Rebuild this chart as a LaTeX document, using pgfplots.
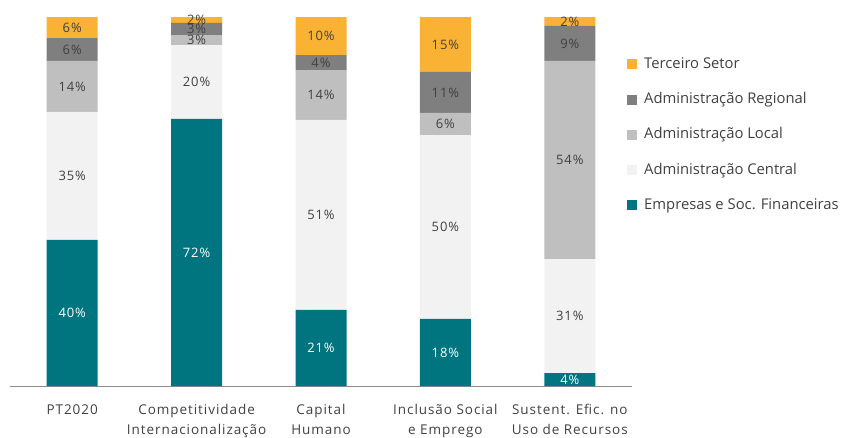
\documentclass[border=0pt]{standalone}
\usepackage{pgfplots}
\pgfplotsset{compat=1.18}
\usepackage{pgfplotstable}
\usepackage{fontspec}
\setmainfont{Open Sans}
\newfontfamily\tickfont[LetterSpace=7]{Open Sans}
\definecolor{cEmp}{HTML}{00747F}
\definecolor{cCen}{HTML}{F2F2F2}
\definecolor{cLoc}{HTML}{BFBFBF}
\definecolor{cReg}{HTML}{7F7F7F}
\definecolor{cTer}{HTML}{F9B233}
\definecolor{txt}{HTML}{404040}
\pgfplotstableread{
x y lab
0 39.6 40
1 72.4 72
2 20.6 21
3 18.2 18
4 3.5 4
}\tEmp
\pgfplotstableread{
x y lab
0 34.7 35
1 20.0 20
2 51.5 51
3 49.8 50
4 30.9 31
}\tCen
\pgfplotstableread{
x y lab
0 13.8 14
1 2.7 3
2 13.5 14
3 6.0 6
4 53.7 54
}\tLoc
\pgfplotstableread{
x y lab
0 6.2 6
1 3.3 3
2 4.1 4
3 11.1 11
4 9.5 9
}\tReg
\pgfplotstableread{
x y lab
0 5.7 6
1 1.6 2
2 10.3 10
3 14.9 15
4 2.4 2
}\tTer
\begin{document}
\begin{tikzpicture}
\useasboundingbox (-10pt,-51pt) rectangle (833pt,386pt);
\begin{axis}[
  scale only axis, width=622pt, height=369pt,
  ybar stacked, bar width=51pt,
  ymin=0, ymax=100, xmin=-0.5, xmax=4.5,
  axis y line=none, axis x line*=bottom,
  x axis line style={draw=black!45, -},
  xtick={0,...,4},
  xticklabels={PT2020,Competitividade\\Internacionalização,Capital\\Humano,Inclusão Social\\e Emprego,Sustent. Efic. no\\Uso de Recursos},
  major tick length=0pt,
  xticklabel style={align=center, anchor=north, font=\tickfont\fontsize{13.5}{19.5}\selectfont, text=txt, yshift=-15pt},
  point meta=explicit,
  /pgf/number format/assume math mode=true,
  nodes near coords={\pgfmathprintnumber[fixed,precision=0,assume math mode=true]{\pgfplotspointmeta}\%},
  every node near coord/.append style={anchor=center, font=\tickfont\fontsize{13}{14}\selectfont, text=txt},
  reverse legend,
  legend cell align=left,
  legend style={draw=none, fill=none, at={(1,1)}, anchor=north west, xshift=-8pt, yshift=-36pt,
    row sep=18.6pt, font=\fontsize{14.8}{16}\selectfont, text=txt},
  legend image code/.code={\fill[#1] (0pt,-6pt) rectangle (10pt,4pt); \path (0pt,0pt) -- (15pt,0pt);},
]
\addplot[fill=cEmp, draw=none, every node near coord/.append style={text=white}] table[x=x,y=y,meta=lab] {\tEmp};
\addplot[fill=cCen, draw=none] table[x=x,y=y,meta=lab] {\tCen};
\addplot[fill=cLoc, draw=none] table[x=x,y=y,meta=lab] {\tLoc};
\addplot[fill=cReg, draw=none] table[x=x,y=y,meta=lab] {\tReg};
\addplot[fill=cTer, draw=none] table[x=x,y=y,meta=lab] {\tTer};
\legend{Empresas e Soc. Financeiras,Administração Central,Administração Local,Administração Regional,Terceiro Setor}
\end{axis}
\end{tikzpicture}
\end{document}
